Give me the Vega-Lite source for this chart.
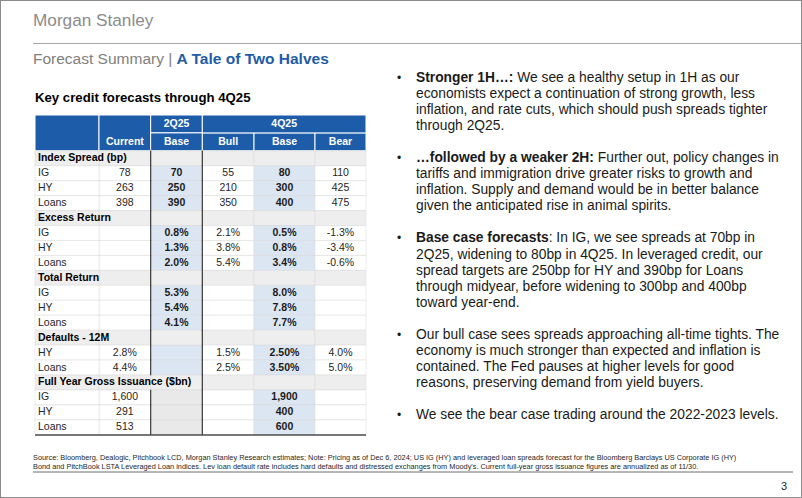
{
  "$schema": "https://vega.github.io/schema/vega-lite/v6.json",
  "width": 802,
  "height": 498,
  "padding": 0,
  "autosize": {"type": "none"},
  "background": "#ffffff",
  "config": {
    "view": {"stroke": "#8c8c8c", "strokeWidth": 2},
    "axis": {"disable": true},
    "legend": {"disable": true}
  },
  "resolve": {"scale": {"x": "independent", "y": "independent", "color": "independent", "fill": "independent"}},
  "datasets": {
    "rows": [
      {"r": "r00", "grp": "spread", "sec": true, "lab": "Index Spread (bp)", "Current": "", "B2": "", "Bull": "", "B4": "", "Bear": ""},
      {"r": "r01", "grp": "spread", "sec": false, "lab": "IG", "Current": "78", "B2": "70", "Bull": "55", "B4": "80", "Bear": "110"},
      {"r": "r02", "grp": "spread", "sec": false, "lab": "HY", "Current": "263", "B2": "250", "Bull": "210", "B4": "300", "Bear": "425"},
      {"r": "r03", "grp": "spread", "sec": false, "lab": "Loans", "Current": "398", "B2": "390", "Bull": "350", "B4": "400", "Bear": "475"},
      {"r": "r04", "grp": "excess", "sec": true, "lab": "Excess Return", "Current": "", "B2": "", "Bull": "", "B4": "", "Bear": ""},
      {"r": "r05", "grp": "excess", "sec": false, "lab": "IG", "Current": "", "B2": "0.8%", "Bull": "2.1%", "B4": "0.5%", "Bear": "-1.3%"},
      {"r": "r06", "grp": "excess", "sec": false, "lab": "HY", "Current": "", "B2": "1.3%", "Bull": "3.8%", "B4": "0.8%", "Bear": "-3.4%"},
      {"r": "r07", "grp": "excess", "sec": false, "lab": "Loans", "Current": "", "B2": "2.0%", "Bull": "5.4%", "B4": "3.4%", "Bear": "-0.6%"},
      {"r": "r08", "grp": "total", "sec": true, "lab": "Total Return", "Current": "", "B2": "", "Bull": "", "B4": "", "Bear": ""},
      {"r": "r09", "grp": "total", "sec": false, "lab": "IG", "Current": "", "B2": "5.3%", "Bull": "", "B4": "8.0%", "Bear": ""},
      {"r": "r10", "grp": "total", "sec": false, "lab": "HY", "Current": "", "B2": "5.4%", "Bull": "", "B4": "7.8%", "Bear": ""},
      {"r": "r11", "grp": "total", "sec": false, "lab": "Loans", "Current": "", "B2": "4.1%", "Bull": "", "B4": "7.7%", "Bear": ""},
      {"r": "r12", "grp": "defaults", "sec": true, "lab": "Defaults - 12M", "Current": "", "B2": "", "Bull": "", "B4": "", "Bear": ""},
      {"r": "r13", "grp": "defaults", "sec": false, "lab": "HY", "Current": "2.8%", "B2": "", "Bull": "1.5%", "B4": "2.50%", "Bear": "4.0%"},
      {"r": "r14", "grp": "defaults", "sec": false, "lab": "Loans", "Current": "4.4%", "B2": "", "Bull": "2.5%", "B4": "3.50%", "Bear": "5.0%"},
      {"r": "r15", "grp": "issuance", "sec": true, "lab": "Full Year Gross Issuance ($bn)", "Current": "", "B2": "", "Bull": "", "B4": "", "Bear": ""},
      {"r": "r16", "grp": "issuance", "sec": false, "lab": "IG", "Current": "1,600", "B2": "", "Bull": "", "B4": "1,900", "Bear": ""},
      {"r": "r17", "grp": "issuance", "sec": false, "lab": "HY", "Current": "291", "B2": "", "Bull": "", "B4": "400", "Bear": ""},
      {"r": "r18", "grp": "issuance", "sec": false, "lab": "Loans", "Current": "513", "B2": "", "Bull": "", "B4": "600", "Bear": ""}
    ],
    "hdr": [
      {"c": "Current", "h": "h2", "t": "Current", "m": true},
      {"c": "B2", "h": "h1", "t": "2Q25", "m": false},
      {"c": "B2", "h": "h2", "t": "Base", "m": false},
      {"c": "Bull", "h": "h2", "t": "Bull", "m": false}
    ],
    "bul": [
      {"ln": "s01", "seg": "dot", "t": "•"},
      {"ln": "s01", "seg": "b1", "t": "Stronger 1H…:"},
      {"ln": "s01", "seg": "r1", "t": "We see a healthy setup in 1H as our"},
      {"ln": "s02", "seg": "txt", "t": "economists expect a continuation of strong growth, less"},
      {"ln": "s03", "seg": "txt", "t": "inflation, and rate cuts, which should push spreads tighter"},
      {"ln": "s04", "seg": "txt", "t": "through 2Q25."},
      {"ln": "s06", "seg": "dot", "t": "•"},
      {"ln": "s06", "seg": "b2", "t": "…followed by a weaker 2H:"},
      {"ln": "s06", "seg": "r2", "t": "Further out, policy changes in"},
      {"ln": "s07", "seg": "txt", "t": "tariffs and immigration drive greater risks to growth and"},
      {"ln": "s08", "seg": "txt", "t": "inflation. Supply and demand would be in better balance"},
      {"ln": "s09", "seg": "txt", "t": "given the anticipated rise in animal spirits."},
      {"ln": "s11", "seg": "dot", "t": "•"},
      {"ln": "s11", "seg": "b3", "t": "Base case forecasts"},
      {"ln": "s11", "seg": "r3", "t": ": In IG, we see spreads at 70bp in"},
      {"ln": "s12", "seg": "txt", "t": "2Q25, widening to 80bp in 4Q25. In leveraged credit, our"},
      {"ln": "s13", "seg": "txt", "t": "spread targets are 250bp for HY and 390bp for Loans"},
      {"ln": "s14", "seg": "txt", "t": "through midyear, before widening to 300bp and 400bp"},
      {"ln": "s15", "seg": "txt", "t": "toward year-end."},
      {"ln": "s17", "seg": "dot", "t": "•"},
      {"ln": "s17", "seg": "txt", "t": "Our bull case sees spreads approaching all-time tights. The"},
      {"ln": "s18", "seg": "txt", "t": "economy is much stronger than expected and inflation is"},
      {"ln": "s19", "seg": "txt", "t": "contained. The Fed pauses at higher levels for good"},
      {"ln": "s20", "seg": "txt", "t": "reasons, preserving demand from yield buyers."},
      {"ln": "s22", "seg": "dot", "t": "•"},
      {"ln": "s22", "seg": "txt", "t": "We see the bear case trading around the 2022-2023 levels."}
    ]
  },
  "layer": [
    {
      "data": {"values": [{"t": "Morgan Stanley"}]},
      "mark": {"type": "text", "align": "left", "baseline": "middle", "font": "Liberation Sans", "fontSize": 17.2, "color": "#8c8c8c"},
      "encoding": {
        "text": {"field": "t", "type": "nominal"},
        "x": {"datum": "left", "type": "nominal", "scale": {"type": "point", "domain": ["left", "right"], "range": [33, 802], "padding": 0}},
        "y": {"datum": "logo", "type": "nominal", "scale": {"type": "point", "domain": ["logo"], "range": [21, 21], "padding": 0}}
      }
    },
    {
      "data": {"values": [{"k": "hr"}]},
      "mark": {"type": "rule", "color": "#a6a6a6", "strokeWidth": 1},
      "encoding": {
        "x": {"datum": "left", "type": "nominal", "scale": {"type": "point", "domain": ["left", "right"], "range": [33, 802], "padding": 0}},
        "x2": {"datum": "right"},
        "y": {"field": "k", "type": "nominal", "scale": {"type": "point", "domain": ["hr"], "range": [43.5, 43.5], "padding": 0}}
      }
    },
    {
      "data": {"values": [{"k": "title", "a": "Forecast Summary |", "b": "A Tale of Two Halves"}]},
      "encoding": {
        "x": {"datum": "left", "type": "nominal", "scale": {"type": "point", "domain": ["left", "right"], "range": [33, 802], "padding": 0}},
        "y": {"field": "k", "type": "nominal", "scale": {"type": "point", "domain": ["title"], "range": [58.5, 58.5], "padding": 0}}
      },
      "layer": [
        {"mark": {"type": "text", "align": "left", "baseline": "middle", "font": "Liberation Sans", "fontSize": 15.5, "color": "#808080"}, "encoding": {"text": {"field": "a", "type": "nominal"}}},
        {"mark": {"type": "text", "align": "left", "baseline": "middle", "font": "Liberation Sans", "fontSize": 15.5, "fontWeight": "bold", "color": "#1f5ca8", "dx": 143.6}, "encoding": {"text": {"field": "b", "type": "nominal"}}}
      ]
    },
    {
      "data": {"values": [{"k": "kt", "t": "Key credit forecasts through 4Q25"}]},
      "mark": {"type": "text", "align": "left", "baseline": "middle", "font": "Liberation Sans", "fontSize": 13.2, "fontWeight": "bold", "color": "#000000", "dx": 2},
      "encoding": {
        "text": {"field": "t", "type": "nominal"},
        "x": {"datum": "left", "type": "nominal", "scale": {"type": "point", "domain": ["left", "right"], "range": [33, 802], "padding": 0}},
        "y": {"field": "k", "type": "nominal", "scale": {"type": "point", "domain": ["kt"], "range": [98.3, 98.3], "padding": 0}}
      }
    },
    {
      "data": {"values": [{"c": "L"}]},
      "mark": {"type": "rect", "fill": "#1d5ca8", "stroke": "#ffffff", "strokeWidth": 1},
      "encoding": {
        "x": {"field": "c", "type": "nominal", "scale": {"type": "band", "domain": ["L"], "range": [35, 99], "paddingInner": 0, "paddingOuter": 0}},
        "y": {"datum": "H", "type": "nominal", "scale": {"type": "band", "domain": ["H"], "range": [115, 150.8], "paddingInner": 0, "paddingOuter": 0}}
      }
    },
    {
      "data": {"values": [{"c": "Current"}]},
      "mark": {"type": "rect", "fill": "#1d5ca8", "stroke": "#ffffff", "strokeWidth": 1},
      "encoding": {
        "x": {"field": "c", "type": "nominal", "scale": {"type": "band", "domain": ["Current", "B2", "Bull"], "range": [99, 254], "paddingInner": 0, "paddingOuter": 0}},
        "y": {"datum": "H", "type": "nominal", "scale": {"type": "band", "domain": ["H"], "range": [115, 150.8], "paddingInner": 0, "paddingOuter": 0}}
      }
    },
    {
      "data": {"name": "hdr"},
      "encoding": {
        "x": {"field": "c", "type": "nominal", "scale": {"type": "band", "domain": ["Current", "B2", "Bull"], "range": [99, 254], "paddingInner": 0, "paddingOuter": 0}},
        "y": {"field": "h", "type": "nominal", "scale": {"type": "band", "domain": ["h1", "h2"], "range": [115, 150.8], "paddingInner": 0, "paddingOuter": 0}}
      },
      "layer": [
        {"transform": [{"filter": "!datum.m"}], "mark": {"type": "rect", "fill": "#1d5ca8", "stroke": "#ffffff", "strokeWidth": 1}},
        {"mark": {"type": "text", "align": "center", "baseline": "middle", "font": "Liberation Sans", "fontSize": 10.5, "fontWeight": "bold", "color": "#ffffff"}, "encoding": {"text": {"field": "t", "type": "nominal"}}}
      ]
    },
    {
      "data": {"values": [{"c": "B4", "h": "h2", "t": "Base"}]},
      "encoding": {
        "x": {"field": "c", "type": "nominal", "scale": {"type": "band", "domain": ["B4"], "range": [254, 315], "paddingInner": 0, "paddingOuter": 0}},
        "y": {"field": "h", "type": "nominal", "scale": {"type": "band", "domain": ["h1", "h2"], "range": [115, 150.8], "paddingInner": 0, "paddingOuter": 0}}
      },
      "layer": [
        {"mark": {"type": "rect", "fill": "#1d5ca8", "stroke": "#ffffff", "strokeWidth": 1}},
        {"mark": {"type": "text", "align": "center", "baseline": "middle", "font": "Liberation Sans", "fontSize": 10.5, "fontWeight": "bold", "color": "#ffffff"}, "encoding": {"text": {"field": "t", "type": "nominal"}}}
      ]
    },
    {
      "data": {"values": [{"c": "Bear", "h": "h2", "t": "Bear"}]},
      "encoding": {
        "x": {"field": "c", "type": "nominal", "scale": {"type": "band", "domain": ["Bear"], "range": [315, 366], "paddingInner": 0, "paddingOuter": 0}},
        "y": {"field": "h", "type": "nominal", "scale": {"type": "band", "domain": ["h1", "h2"], "range": [115, 150.8], "paddingInner": 0, "paddingOuter": 0}}
      },
      "layer": [
        {"mark": {"type": "rect", "fill": "#1d5ca8", "stroke": "#ffffff", "strokeWidth": 1}},
        {"mark": {"type": "text", "align": "center", "baseline": "middle", "font": "Liberation Sans", "fontSize": 10.5, "fontWeight": "bold", "color": "#ffffff"}, "encoding": {"text": {"field": "t", "type": "nominal"}}}
      ]
    },
    {
      "data": {"values": [{"c": "4Q25", "h": "h1", "t": "4Q25"}]},
      "encoding": {
        "x": {"field": "c", "type": "nominal", "scale": {"type": "band", "domain": ["4Q25"], "range": [202.3, 366], "paddingInner": 0, "paddingOuter": 0}},
        "y": {"field": "h", "type": "nominal", "scale": {"type": "band", "domain": ["h1", "h2"], "range": [115, 150.8], "paddingInner": 0, "paddingOuter": 0}}
      },
      "layer": [
        {"mark": {"type": "rect", "fill": "#1d5ca8", "stroke": "#ffffff", "strokeWidth": 1}},
        {"mark": {"type": "text", "align": "center", "baseline": "middle", "font": "Liberation Sans", "fontSize": 10.5, "fontWeight": "bold", "color": "#ffffff"}, "encoding": {"text": {"field": "t", "type": "nominal"}}}
      ]
    },
    {
      "data": {"name": "rows"},
      "transform": [{"fold": ["Current", "B2", "Bull"], "as": ["c", "v"]}],
      "encoding": {
        "x": {"field": "c", "type": "nominal", "scale": {"type": "band", "domain": ["Current", "B2", "Bull"], "range": [99, 254], "paddingInner": 0, "paddingOuter": 0}},
        "y": {"field": "r", "type": "nominal", "scale": {"type": "band", "domain": ["r00","r01","r02","r03","r04","r05","r06","r07","r08","r09","r10","r11","r12","r13","r14","r15","r16","r17","r18"], "range": [150.8, 434.8], "paddingInner": 0, "paddingOuter": 0}}
      },
      "layer": [
        {"mark": {"type": "rect", "stroke": "#d9d9d9", "strokeWidth": 0.5},
         "encoding": {"fill": {"condition": [{"test": "datum.sec", "value": "#eeeeee"}, {"test": "datum.grp === 'issuance' && datum.c === 'B2'", "value": "#e9e9e9"}, {"test": "datum.c === 'B2'", "value": "#dce6f2"}], "value": "#ffffff"}}},
        {"transform": [{"filter": "!datum.sec && datum.v !== '' && datum.c !== 'B2'"}],
         "mark": {"type": "text", "align": "center", "baseline": "middle", "font": "Liberation Sans", "fontSize": 10.5, "color": "#262626"},
         "encoding": {"text": {"field": "v", "type": "nominal"}}},
        {"transform": [{"filter": "!datum.sec && datum.v !== '' && datum.c === 'B2'"}],
         "mark": {"type": "text", "align": "center", "baseline": "middle", "font": "Liberation Sans", "fontSize": 10.5, "fontWeight": "bold", "color": "#1a1a1a"},
         "encoding": {"text": {"field": "v", "type": "nominal"}}}
      ]
    },
    {
      "data": {"name": "rows"},
      "transform": [{"fold": ["B4"], "as": ["c", "v"]}],
      "encoding": {
        "x": {"field": "c", "type": "nominal", "scale": {"type": "band", "domain": ["B4"], "range": [254, 315], "paddingInner": 0, "paddingOuter": 0}},
        "y": {"field": "r", "type": "nominal", "scale": {"type": "band", "domain": ["r00","r01","r02","r03","r04","r05","r06","r07","r08","r09","r10","r11","r12","r13","r14","r15","r16","r17","r18"], "range": [150.8, 434.8], "paddingInner": 0, "paddingOuter": 0}}
      },
      "layer": [
        {"mark": {"type": "rect", "stroke": "#d9d9d9", "strokeWidth": 0.5},
         "encoding": {"fill": {"condition": [{"test": "datum.sec", "value": "#eeeeee"}], "value": "#dce6f2"}}},
        {"transform": [{"filter": "!datum.sec && datum.v !== ''"}],
         "mark": {"type": "text", "align": "center", "baseline": "middle", "font": "Liberation Sans", "fontSize": 10.5, "fontWeight": "bold", "color": "#1a1a1a"},
         "encoding": {"text": {"field": "v", "type": "nominal"}}}
      ]
    },
    {
      "data": {"name": "rows"},
      "transform": [{"fold": ["Bear"], "as": ["c", "v"]}],
      "encoding": {
        "x": {"field": "c", "type": "nominal", "scale": {"type": "band", "domain": ["Bear"], "range": [315, 366], "paddingInner": 0, "paddingOuter": 0}},
        "y": {"field": "r", "type": "nominal", "scale": {"type": "band", "domain": ["r00","r01","r02","r03","r04","r05","r06","r07","r08","r09","r10","r11","r12","r13","r14","r15","r16","r17","r18"], "range": [150.8, 434.8], "paddingInner": 0, "paddingOuter": 0}}
      },
      "layer": [
        {"mark": {"type": "rect", "stroke": "#d9d9d9", "strokeWidth": 0.5},
         "encoding": {"fill": {"condition": [{"test": "datum.sec", "value": "#eeeeee"}], "value": "#ffffff"}}},
        {"transform": [{"filter": "!datum.sec && datum.v !== ''"}],
         "mark": {"type": "text", "align": "center", "baseline": "middle", "font": "Liberation Sans", "fontSize": 10.5, "color": "#262626"},
         "encoding": {"text": {"field": "v", "type": "nominal"}}}
      ]
    },
    {
      "data": {"name": "rows"},
      "encoding": {
        "y": {"field": "r", "type": "nominal", "scale": {"type": "band", "domain": ["r00","r01","r02","r03","r04","r05","r06","r07","r08","r09","r10","r11","r12","r13","r14","r15","r16","r17","r18"], "range": [150.8, 434.8], "paddingInner": 0, "paddingOuter": 0}}
      },
      "layer": [
        {"mark": {"type": "rect", "stroke": "#d9d9d9", "strokeWidth": 0.5},
         "encoding": {
           "x": {"datum": "L", "type": "nominal", "scale": {"type": "band", "domain": ["L"], "range": [35, 99], "paddingInner": 0, "paddingOuter": 0}},
           "fill": {"condition": [{"test": "datum.sec", "value": "#eeeeee"}], "value": "#ffffff"}}},
        {"transform": [{"filter": "datum.sec"}],
         "mark": {"type": "text", "align": "left", "baseline": "middle", "font": "Liberation Sans", "fontSize": 10.5, "fontWeight": "bold", "color": "#000000", "dx": 3},
         "encoding": {
           "x": {"datum": "L", "type": "nominal", "scale": {"type": "band", "domain": ["L"], "range": [35, 99], "paddingInner": 0, "paddingOuter": 0}, "bandPosition": 0},
           "text": {"field": "lab", "type": "nominal"}}},
        {"transform": [{"filter": "!datum.sec"}],
         "mark": {"type": "text", "align": "left", "baseline": "middle", "font": "Liberation Sans", "fontSize": 10.5, "color": "#262626", "dx": 3},
         "encoding": {
           "x": {"datum": "L", "type": "nominal", "scale": {"type": "band", "domain": ["L"], "range": [35, 99], "paddingInner": 0, "paddingOuter": 0}, "bandPosition": 0},
           "text": {"field": "lab", "type": "nominal"}}}
      ]
    },
    {
      "data": {"name": "rows"},
      "encoding": {
        "y": {"field": "r", "type": "nominal", "scale": {"type": "band", "domain": ["r00","r01","r02","r03","r04","r05","r06","r07","r08","r09","r10","r11","r12","r13","r14","r15","r16","r17","r18"], "range": [150.8, 434.8], "paddingInner": 0, "paddingOuter": 0}}
      },
      "layer": [
        {"transform": [{"filter": "datum.r !== 'r15'"}],
         "mark": {"type": "tick", "orient": "vertical", "color": "#3a3a3a", "thickness": 1.2, "size": 15.4, "opacity": 1},
         "encoding": {"x": {"datum": "B2", "type": "nominal", "scale": {"type": "band", "domain": ["Current", "B2", "Bull"], "range": [99, 254], "paddingInner": 0, "paddingOuter": 0}, "bandPosition": 0}}},
        {"mark": {"type": "tick", "orient": "vertical", "color": "#3a3a3a", "thickness": 1.2, "size": 15.4, "opacity": 1},
         "encoding": {"x": {"datum": "Bull", "type": "nominal", "scale": {"type": "band", "domain": ["Current", "B2", "Bull"], "range": [99, 254], "paddingInner": 0, "paddingOuter": 0}, "bandPosition": 0}}}
      ]
    },
    {
      "data": {"values": [{"k": "bot"}]},
      "mark": {"type": "rule", "color": "#4d4d4d", "strokeWidth": 1.5},
      "encoding": {
        "x": {"datum": "a", "type": "nominal", "scale": {"type": "point", "domain": ["a", "b"], "range": [35, 366], "padding": 0}},
        "x2": {"datum": "b"},
        "y": {"field": "k", "type": "nominal", "scale": {"type": "point", "domain": ["bot"], "range": [435, 435], "padding": 0}}
      }
    },
    {
      "data": {"name": "bul"},
      "encoding": {
        "y": {"field": "ln", "type": "nominal", "scale": {"type": "point", "domain": ["s01","s02","s03","s04","s05","s06","s07","s08","s09","s10","s11","s12","s13","s14","s15","s16","s17","s18","s19","s20","s21","s22"], "range": [78, 415], "padding": 0}},
        "text": {"field": "t", "type": "nominal"}
      },
      "layer": [
        {"transform": [{"filter": "datum.seg === 'dot'"}],
         "mark": {"type": "text", "align": "center", "baseline": "middle", "font": "Liberation Sans", "fontSize": 12, "color": "#1a1a1a"},
         "encoding": {"x": {"datum": "dot", "type": "nominal", "scale": {"type": "point", "domain": ["dot", "txt"], "range": [399, 416], "padding": 0}}}},
        {"transform": [{"filter": "datum.seg === 'txt'"}],
         "mark": {"type": "text", "align": "left", "baseline": "middle", "font": "Liberation Sans", "fontSize": 13.8, "color": "#1a1a1a"},
         "encoding": {"x": {"datum": "txt", "type": "nominal", "scale": {"type": "point", "domain": ["dot", "txt"], "range": [399, 416], "padding": 0}}}},
        {"transform": [{"filter": "datum.seg === 'b1' || datum.seg === 'b2' || datum.seg === 'b3'"}],
         "mark": {"type": "text", "align": "left", "baseline": "middle", "font": "Liberation Sans", "fontSize": 13.8, "fontWeight": "bold", "color": "#1a1a1a"},
         "encoding": {"x": {"datum": "txt", "type": "nominal", "scale": {"type": "point", "domain": ["dot", "txt"], "range": [399, 416], "padding": 0}}}},
        {"transform": [{"filter": "datum.seg === 'r1'"}],
         "mark": {"type": "text", "align": "left", "baseline": "middle", "font": "Liberation Sans", "fontSize": 13.8, "color": "#1a1a1a", "dx": 101.2},
         "encoding": {"x": {"datum": "txt", "type": "nominal", "scale": {"type": "point", "domain": ["dot", "txt"], "range": [399, 416], "padding": 0}}}},
        {"transform": [{"filter": "datum.seg === 'r2'"}],
         "mark": {"type": "text", "align": "left", "baseline": "middle", "font": "Liberation Sans", "fontSize": 13.8, "color": "#1a1a1a", "dx": 181.8},
         "encoding": {"x": {"datum": "txt", "type": "nominal", "scale": {"type": "point", "domain": ["dot", "txt"], "range": [399, 416], "padding": 0}}}},
        {"transform": [{"filter": "datum.seg === 'r3'"}],
         "mark": {"type": "text", "align": "left", "baseline": "middle", "font": "Liberation Sans", "fontSize": 13.8, "color": "#1a1a1a", "dx": 132.7},
         "encoding": {"x": {"datum": "txt", "type": "nominal", "scale": {"type": "point", "domain": ["dot", "txt"], "range": [399, 416], "padding": 0}}}}
      ]
    },
    {
      "data": {"values": [
        {"k": "n1", "t": "Source: Bloomberg, Dealogic, Pitchbook LCD, Morgan Stanley Research estimates; Note: Pricing as of Dec 6, 2024; US IG (HY) and leveraged loan spreads forecast for the Bloomberg Barclays US Corporate IG (HY)"},
        {"k": "n2", "t": "Bond and PitchBook LSTA Leveraged Loan indices. Lev loan default rate includes hard defaults and distressed exchanges from Moody's. Current full-year gross issuance figures are annualized as of 11/30."}
      ]},
      "mark": {"type": "text", "align": "left", "baseline": "middle", "font": "Liberation Sans", "fontSize": 7.35, "color": "#262626"},
      "encoding": {
        "text": {"field": "t", "type": "nominal"},
        "x": {"datum": "left", "type": "nominal", "scale": {"type": "point", "domain": ["left", "right"], "range": [33, 793], "padding": 0}},
        "y": {"field": "k", "type": "nominal", "scale": {"type": "point", "domain": ["n1", "n2"], "range": [457.5, 466.5], "padding": 0}}
      }
    },
    {
      "data": {"values": [{"k": "fr"}]},
      "mark": {"type": "rule", "color": "#6e6e6e", "strokeWidth": 1},
      "encoding": {
        "x": {"datum": "left", "type": "nominal", "scale": {"type": "point", "domain": ["left", "right"], "range": [33, 793], "padding": 0}},
        "x2": {"datum": "right"},
        "y": {"field": "k", "type": "nominal", "scale": {"type": "point", "domain": ["fr"], "range": [472, 472], "padding": 0}}
      }
    },
    {
      "data": {"values": [{"k": "pg", "t": "3"}]},
      "mark": {"type": "text", "align": "center", "baseline": "middle", "font": "Liberation Sans", "fontSize": 11, "color": "#262626"},
      "encoding": {
        "text": {"field": "t", "type": "nominal"},
        "x": {"field": "k", "type": "nominal", "scale": {"type": "point", "domain": ["pg"], "range": [784, 784], "padding": 0}},
        "y": {"field": "k", "type": "nominal", "scale": {"type": "point", "domain": ["pg"], "range": [487, 487], "padding": 0}}
      }
    }
  ]
}
